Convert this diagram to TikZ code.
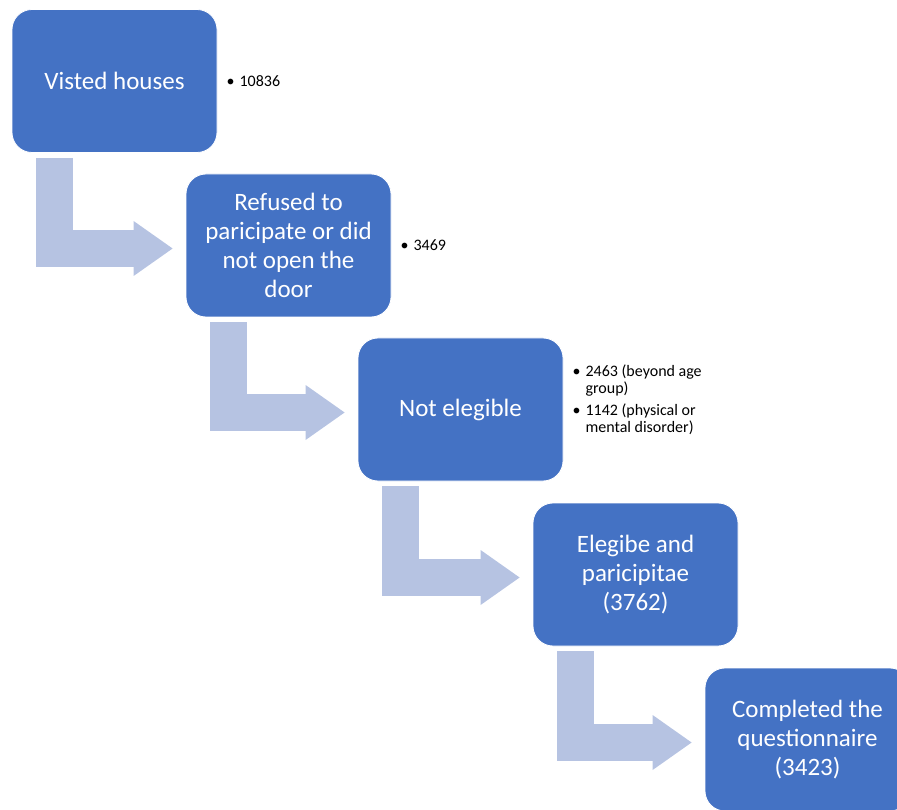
\documentclass[tikz,border=0pt]{standalone}
\usepackage{fontspec}
\setmainfont{Carlito}
\usetikzlibrary{positioning,arrows.meta}
\definecolor{boxblue}{RGB}{68,114,196}
\definecolor{arrowblue}{RGB}{182,195,226}
\tikzset{
  stage/.style={rectangle, rounded corners=20pt, fill=boxblue, draw=white, line width=0.8pt,
    minimum width=205pt, minimum height=143pt, text=white, align=center,
    font=\fontsize{25}{29}\selectfont},
  sidenote/.style={inner sep=0pt, align=left, font=\fontsize{16}{17}\selectfont},
  bent/.style={draw=arrowblue, line width=37pt,
    -{Triangle[length=39pt, width=55pt, line width=0pt]}}
}
\begin{document}
\begin{tikzpicture}[x=1pt, y=-1pt]
  \useasboundingbox (0, 0) rectangle (897, 810);
  \clip (0, 0) rectangle (897, 810);
  % stages
  \node[stage] (b1) at (114.5, 81) {Visted houses};
  \node[stage] (b2) at (288.5, 245.5) {Refused to\\paricipate or did\\not open the\\door};
  \node[stage] (b3) at (460.5, 409.5) {Not elegible};
  \node[stage] (b4) at (635.5, 574.5) {Elegibe and\\paricipitae\\(3762)};
  \node[stage] (b5) at (807.5, 739.5) {Completed the\\questionnaire\\(3423)};
  % bent arrows between stages
  \foreach \a/\b in {b1/b2, b2/b3, b3/b4, b4/b5}
    \draw[bent] ([xshift=43pt, yshift=-5pt]\a.south west) |- ([xshift=-13pt, yshift=-3pt]\b.west);
  % counts beside the stages
  \node[sidenote, right=9pt of b1] (n1) {\textbullet\hspace{5pt}10836};
  \node[sidenote, right=9pt of b2] (n2) {\textbullet\hspace{5pt}3469};
  \node[sidenote, right=9pt of b3, yshift=8pt] (n3) {%
    \begin{tabular}{@{}l@{\hspace{5pt}}l@{}}
      \textbullet & 2463 (beyond age\\
                  & group)\\[5pt]
      \textbullet & 1142 (physical or\\
                  & mental disorder)
    \end{tabular}};
\end{tikzpicture}
\end{document}
